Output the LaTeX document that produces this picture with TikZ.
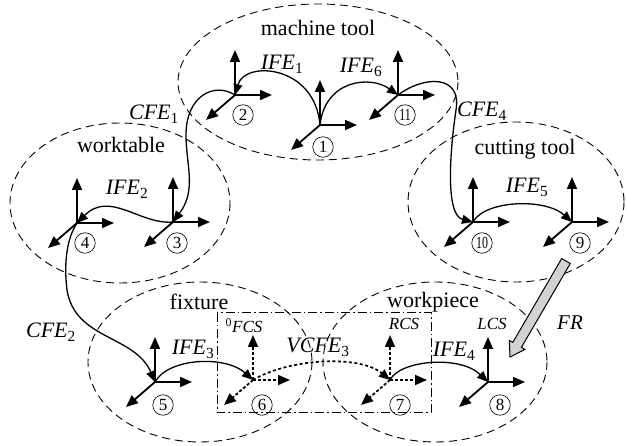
\documentclass[tikz,border=0pt]{standalone}
\usepackage{fontspec}
\setmainfont{Liberation Serif}
\usepackage{graphicx}
\usetikzlibrary{arrows.meta}
\newcommand{\myframe}[4]{%
  \coordinate (#1) at (#2,#3);
  \draw[#4] (#1) -- ++(0,-45);
  \draw[#4] (#1) -- ++(37,0);
  \draw[#4] (#1) -- ++(-29,25);
}
\begin{document}
\begin{tikzpicture}[x=1pt,y=-1pt,
  region/.style={draw, dash pattern=on 8pt off 5pt, line width=0.9pt},
  axis/.style={line width=1.8pt, -{Triangle[length=12pt,width=10pt]}},
  vaxis/.style={axis, dash pattern=on 3pt off 2pt},
  conn/.style={line width=1.3pt, -{Triangle[length=11pt,width=9pt]}},
  vconn/.style={conn, line width=1.7pt, dash pattern=on 3pt off 2.5pt},
  lab/.style={font=\fontsize{22}{24}\selectfont, anchor=base, inner sep=0pt},
  slab/.style={font=\fontsize{17}{19}\selectfont, anchor=base, inner sep=0pt},
  circ/.style={circle, draw, line width=0.6pt, minimum size=20.5pt, inner sep=0pt, font=\fontsize{17}{17}\selectfont},
]
\useasboundingbox (0,0) rectangle (627,446);

% regions
\draw[region] (318,82) ellipse [x radius=140, y radius=78];
\draw[region] (120,203) ellipse [x radius=110, y radius=80];
\draw[region] (516,202) ellipse [x radius=108, y radius=80];
\draw[region] (200,362) ellipse [x radius=112, y radius=80];
\draw[region] (435,362) ellipse [x radius=112, y radius=80];

% virtual box
\draw[line width=1pt, dash pattern=on 9pt off 3pt on 1.5pt off 3pt] (217,313) rectangle (431,413);

% frames
\myframe{o1}{320}{125}{axis}
\myframe{o2}{235}{95}{axis}
\myframe{o11}{398}{95}{axis}
\myframe{o3}{173}{222}{axis}
\myframe{o4}{77}{223}{axis}
\myframe{o10}{473}{222}{axis}
\myframe{o9}{572}{222}{axis}
\myframe{o5}{155}{382}{axis}
\myframe{o6}{253}{380}{vaxis}
\myframe{o7}{390}{380}{vaxis}
\myframe{o8}{488}{382}{axis}

% circled numbers
\node[circ] (c1) at (323,147) {1};
\node[circ] (c2) at (243,115) {2};
\node[circ] (c11) at (405,115) {\scalebox{0.7}[1]{11}};
\node[circ] (c4) at (85,243) {4};
\node[circ] (c3) at (177,243) {3};
\node[circ] (c10) at (482,243) {\scalebox{0.7}[1]{10}};
\node[circ] (c9) at (580,243) {9};
\node[circ] (c5) at (163,405) {5};
\node[circ] (c6) at (262,405) {6};
\node[circ] (c7) at (400,405) {7};
\node[circ] (c8) at (500,405) {8};

% connectors
\draw[conn] (o1) .. controls (315,65) and (245,60) .. (o2);
\draw[conn] (o1) .. controls (325,80) and (370,75) .. (o11);
\draw[conn] (o2) .. controls (215,82) and (186,95) .. (186,135) .. controls (186,165) and (197,190) .. (o3);
\draw[conn] (o3) .. controls (140,225) and (110,190) .. (o4);
\draw[conn] (o4) .. controls (66,240) and (64,265) .. (67,290) .. controls (75,340) and (135,335) .. (o5);
\draw[conn] (o5) .. controls (168,358) and (225,355) .. (o6);
\draw[vconn] (o6) .. controls (290,358) and (360,355) .. (o7);
\draw[conn] (o7) .. controls (400,360) and (460,355) .. (o8);
\draw[conn] (o11) .. controls (425,75) and (462,75) .. (456,110) .. controls (450,150) and (445,215) .. (o10);
\draw[conn] (o10) .. controls (485,200) and (545,198) .. (o9);

% FR arrow
\draw[fill=gray!35, line width=1pt, line join=miter]
  (561.7,258.5) -- (512.8,342.4) -- (509.3,340.4) -- (510,357) -- (524.9,349.4) -- (521.4,347.4) -- (570.3,263.5) -- cycle;

% labels
\node[lab] (lmt) at (318,36) {machine tool};
\node[lab] (lwt) at (121,153) {worktable};
\node[lab] (lct) at (525,155) {cutting tool};
\node[lab] (lfx) at (199,310) {fixture};
\node[lab] (lwp) at (433,308) {workpiece};
\node[lab] (i1) at (282,70) {\textit{IFE}\textsubscript{1}};
\node[lab] (i6) at (361,73) {\textit{IFE}\textsubscript{6}};
\node[lab] (cf1) at (154,120) {\textit{CFE}\textsubscript{1}};
\node[lab] (i2) at (127,195) {\textit{IFE}\textsubscript{2}};
\node[lab] (cf4) at (482,117) {\textit{CFE}\textsubscript{4}};
\node[lab] (i5) at (527,193) {\textit{IFE}\textsubscript{5}};
\node[lab] (cf2) at (51,338) {\textit{CFE}\textsubscript{2}};
\node[lab] (i3) at (193,355) {\textit{IFE}\textsubscript{3}};
\node[lab] (vc3) at (318,353) {\textit{VCFE}\textsubscript{3}};
\node[lab] (i4) at (454,357) {\textit{IFE}\textsubscript{4}};
\node[slab] (fcs) at (244,333) {\textsuperscript{0}\textit{FCS}};
\node[slab] (rcs) at (404,330) {\textit{RCS}};
\node[slab] (lcs) at (492,330) {\textit{LCS}};
\node[lab, font=\fontsize{21}{23}\selectfont] (fr) at (570,330) {\textit{FR}};
\end{tikzpicture}
\end{document}
